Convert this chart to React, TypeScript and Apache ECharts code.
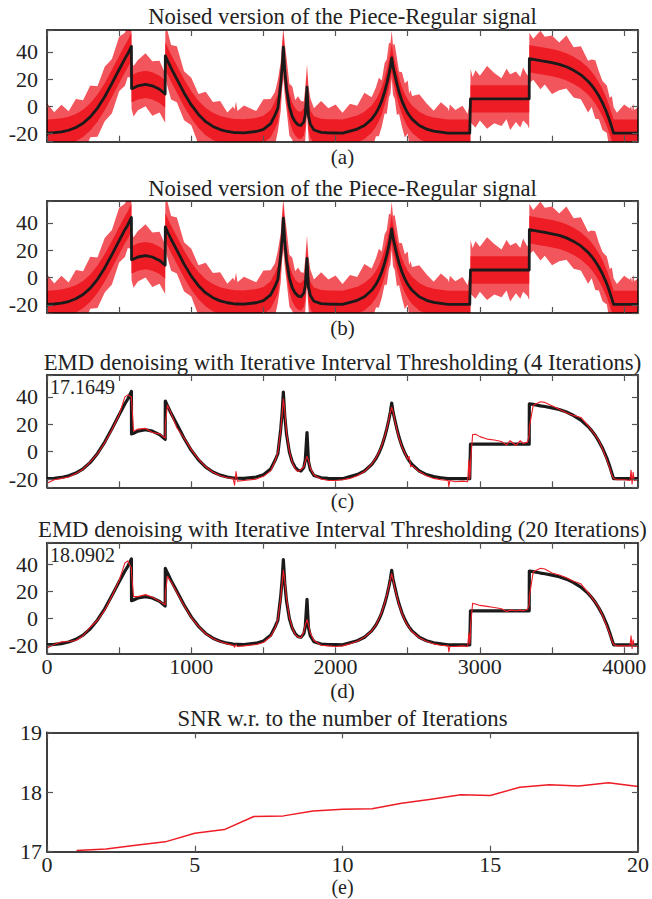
import React, { useEffect, useRef } from 'react';
import * as echarts from 'echarts';

// ---------- data ----------
const sigX = [
  0, 50, 100, 150, 200, 250, 300, 350, 400, 450,
  500, 540, 560, 585, 586, 600, 630, 683, 730, 780,
  819, 820, 835, 860, 900, 950, 1000, 1050, 1100, 1150,
  1200, 1250, 1290, 1300, 1310, 1320, 1365, 1450, 1500, 1550,
  1580, 1600, 1620, 1630, 1638, 1648, 1660, 1680, 1700, 1720,
  1740, 1760, 1780, 1790, 1802, 1812, 1825, 1850, 1900, 1950,
  2000, 2048, 2100, 2150, 2200, 2250, 2280, 2300, 2320, 2340,
  2355, 2370, 2380, 2389, 2398, 2410, 2425, 2440, 2460, 2480,
  2500, 2510, 2520, 2530, 2580, 2630, 2680, 2730, 2780, 2785,
  2792, 2830, 2880, 2915, 2924, 2930, 2934, 2935, 2950, 2970,
  3000, 3050, 3100, 3150, 3185, 3210, 3250, 3280, 3300, 3330,
  3342, 3343, 3370, 3420, 3450, 3500, 3550, 3600, 3650, 3700,
  3750, 3775, 3800, 3825, 3850, 3880, 3900, 3915, 3927, 3950,
  4000, 4040, 4048, 4055, 4062, 4070, 4096,
];

const cleanSig = [
  -19.7, -19.4, -18.8, -17.6, -15.6, -12.5, -7.8, -1.3, 7, 16.8,
  27, 35, 38.5, 44, 13, 13.5, 15, 16, 15, 12.5,
  9, 37, 33.5, 28, 20, 9.8, 1, -6, -11.3, -14.8,
  -17.1, -18.5, -19.2, -19.3, -19.4, -19.4, -19.5, -18.5, -16.9, -12.7,
  -6.5, -1.5, 16.6, 29, 43.5, 26, 12.7, -0.4, -7.5, -11.4,
  -13.6, -14.1, -11.5, -6.2, 14, -6.9, -13.1, -17.4, -19.1, -19.5,
  -19.6, -19.7, -18.2, -16.7, -14.1, -9.4, -5, -1, 4, 10.7,
  16.6, 23.7, 29.2, 35.5, 29.2, 23.5, 16.6, 10.5, 4, -1,
  -5, -6.6, -8, -9.4, -14.1, -16.7, -18.2, -19, -19.7, -19.7,
  -19.7, -19.7, -19.7, -19.7, -19.7, -19.7, -19.7, 5.5, 5.5, 5.5,
  5.5, 5.5, 5.5, 5.5, 5.5, 5.5, 5.5, 5.5, 5.5, 5.5,
  5.5, 35, 34.5, 33.5, 33, 32, 30.8, 29, 26.4, 23.1,
  18.4, 15.4, 11.8, 7.5, 2.6, -4.7, -10.7, -15.7, -19.7, -19.7,
  -19.7, -19.7, -19.7, -19.7, -19.7, -19.7, -19.7,
];

const denoised4 = [
  -23, -20.5, -19.5, -18.5, -16, -12.8, -7.5, -1.5, 6.5, 16,
  27, 40, 41.5, 40, 38, 15, 16.5, 17, 14, 13,
  10, 20, 34, 28, 17.5, 10, 1.5, -5.5, -11, -15,
  -17.5, -19, -19.5, -24.5, -14.5, -21.5, -21, -20, -18, -14,
  -7, -0.5, 16, 28, 38.5, 30, 14, 0, -8, -12.5,
  -14.5, -13, -11, -7, -3.5, -6, -12, -17, -20, -21,
  -21, -20.5, -19.5, -17.5, -14.5, -9, -4.5, -0.5, 4.5, 11,
  17, 24, 29, 32.5, 29.5, 23, 16, 10, 3.5, -1,
  -5.5, -3.5, -11, -10, -14.5, -17.5, -19.5, -20.5, -21, -25.5,
  -21, -22, -21.5, -22, -6, -20, -14, -8, 12.5, 12.7,
  11, 9.2, 8.5, 7.5, 5, 8, 4.5, 8, 6, 7,
  12, 18, 34, 36.5, 36, 33.5, 31, 28.5, 26.5, 25,
  19, 15.5, 12, 8, 2, -6, -12, -17, -19.5, -20.5,
  -20.5, -21, -13.5, -23.5, -15, -21, -20.5,
];

const denoised20 = [
  -22, -19.5, -17.5, -17.2, -16.5, -13, -6.5, -1.5, 6, 16.5,
  28, 41, 42.5, 37, 33, 16, 16, 17.5, 15.5, 12.5,
  10, 18, 31, 27, 19, 9.5, 0.5, -6, -11.5, -15,
  -17.5, -19, -20, -21.5, -19.5, -21, -20.5, -19.5, -18, -13.5,
  -7.5, -1, 15, 26, 35.5, 28, 15, 0.5, -7, -12,
  -14, -14.5, -10, -5, -1, -4.5, -11, -16.5, -20, -20.5,
  -21, -20.5, -19, -17, -14, -9.5, -5, -0.5, 4.5, 11,
  17, 24, 28.5, 33, 29, 22.5, 16, 10, 3.5, -1.5,
  -5.5, -6.5, -8.5, -10, -14.5, -17, -19, -20, -20.5, -25,
  -21, -21, -20.5, -21, -11, -19, -12, -6, 11, 10.5,
  9.5, 8.8, 8, 7, 5, 6, 5.5, 6, 5.5, 6.5,
  10, 16, 34.5, 37, 36.5, 33.5, 32, 30, 27.5, 25.5,
  19, 15.5, 12, 8, 2, -6, -11.5, -16.5, -19.5, -20.5,
  -20.5, -20.5, -13, -22.5, -16, -21, -20.5,
];

// reach of the noise spikes above / below the clean signal at each point
const noiseUp = [
  22, 15, 20, 14, 21, 17, 23, 16, 22, 18,
  24, 19, 21, 17, 20, 16, 19, 23, 18, 21,
  15, 18, 22, 17, 24, 16, 20, 15, 22, 18,
  21, 14, 19, 17, 23, 16, 20, 15, 22, 18,
  17, 21, 16, 19, 14, 20, 23, 17, 22, 16,
  21, 18, 15, 20, 17, 22, 19, 16, 23, 18,
  21, 15, 20, 17, 24, 16, 19, 22, 15, 21,
  18, 23, 17, 20, 16, 22, 19, 15, 21, 18,
  24, 16, 20, 17, 23, 19, 15, 22, 18, 16,
  21, 17, 20, 14, 19, 23, 18, 22, 16, 21,
  17, 24, 19, 15, 22, 18, 20, 16, 23, 17,
  21, 19, 15, 22, 18, 20, 16, 23, 17, 21,
  15, 19, 22, 18, 16, 20, 17, 23, 19, 15,
  21, 18, 20, 16, 22, 17, 19,
];
const noiseDown = [
  16, 21, 15, 20, 17, 23, 15, 21, 18, 22,
  16, 20, 17, 23, 15, 21, 18, 16, 22, 17,
  21, 16, 19, 23, 17, 20, 15, 22, 18, 21,
  16, 20, 15, 22, 18, 23, 16, 19, 21, 15,
  22, 17, 20, 16, 23, 18, 15, 21, 17, 22,
  19, 15, 22, 18, 20, 16, 23, 17, 21, 15,
  18, 22, 16, 20, 15, 23, 17, 21, 19, 16,
  22, 17, 20, 15, 21, 18, 23, 16, 19, 22,
  15, 21, 18, 16, 23, 17, 20, 22, 15, 19,
  21, 16, 23, 18, 20, 15, 22, 17, 19, 21,
  16, 22, 18, 20, 15, 23, 17, 21, 16, 19,
  22, 18, 15, 21, 17, 23, 19, 16, 20, 18,
  23, 16, 21, 17, 20, 15, 22, 18, 19, 21,
  16, 20, 17, 22, 18, 21, 16,
];
const noiseCore = 10; // half-width of the dense part of the noise

const iterations = [1, 2, 3, 4, 5, 6, 7, 8, 9, 10, 11, 12, 13, 14, 15, 16, 17, 18, 19, 20];
const snrValues = [
  17.02, 17.045, 17.11, 17.1649, 17.31, 17.37, 17.59, 17.6, 17.68, 17.71,
  17.72, 17.81, 17.88, 17.955, 17.94, 18.08, 18.12, 18.1, 18.155, 18.0902,
];

const panelTitles = [
  'Noised version of the Piece-Regular signal',
  'Noised version of the Piece-Regular signal',
  'EMD denoising with Iterative Interval Thresholding (4 Iterations)',
  'EMD denoising with Iterative Interval Thresholding (20 Iterations)',
  'SNR w.r. to the number of Iterations',
];
const panelLabels = ['(a)', '(b)', '(c)', '(d)', '(e)'];

// ---------- layout / style ----------
const FONT = 'Liberation Serif, serif';
const RED = '#ee1c25';
const BLACK = '#1a1a1a';
const TEXT = '#222';
const GRID_LEFT = 47;
const GRID_WIDTH = 591;
const CENTER_X = GRID_LEFT + GRID_WIDTH / 2;
const grids = [
  { top: 30, height: 111.7 },
  { top: 201, height: 112 },
  { top: 375, height: 112.3 },
  { top: 542.7, height: 110.6 },
  { top: 732.3, height: 119.4 },
];
const titleY = [16.7, 188, 362, 529.5, 718.7];
const labelY = [157, 328, 501, 691, 886.5];

export default function App() {
  const ref = useRef<HTMLDivElement>(null);

  useEffect(() => {
    document.body.style.margin = '0';
    const chart = echarts.init(ref.current as HTMLDivElement, null, { renderer: 'svg' });

    const xAxes: any[] = [];
    const yAxes: any[] = [];
    grids.forEach((_, gi) => {
      const isSnr = gi === 4;
      const lineCfg = { show: true, onZero: false, lineStyle: { color: '#000', width: 1.5 } };
      const tickCfg = { show: true, inside: true, length: 6, lineStyle: { color: '#555', width: 1.2 } };
      const labelCfg = { fontFamily: FONT, fontSize: 22, color: TEXT };
      const xBase = {
        type: 'value', gridIndex: gi, min: 0, max: isSnr ? 20 : 4096, interval: isSnr ? 5 : 500,
        splitLine: { show: false }, axisLine: lineCfg, axisTick: tickCfg, z: 10,
      };
      xAxes.push({
        ...xBase, position: 'bottom',
        axisLabel: {
          ...labelCfg, show: gi >= 3, margin: 2,
          formatter: (v: number) => (isSnr || v % 1000 === 0 ? String(v) : ''),
        },
      });
      xAxes.push({ ...xBase, position: 'top', axisLabel: { show: false } });
      const yBase: any = {
        type: 'value', gridIndex: gi, min: isSnr ? 17 : -26, max: isSnr ? 19 : 56,
        splitLine: { show: false }, axisLine: lineCfg, axisTick: tickCfg, z: 10,
      };
      if (isSnr) yBase.interval = 1; else yBase.splitNumber = 4;
      yAxes.push({
        ...yBase, position: 'left',
        axisLabel: {
          ...labelCfg, show: true, margin: isSnr ? 5 : 9,
          formatter: (v: number) => (isSnr || v % 20 === 0 ? String(v) : ''),
        },
      });
      yAxes.push({ ...yBase, position: 'right', axisLabel: { show: false } });
    });

    const cleanData = sigX.map((x, i) => [x, cleanSig[i]]);
    const outerHi = cleanSig.map((v, i) => v + noiseUp[i]);
    const outerLo = cleanSig.map((v, i) => v - noiseDown[i]);
    const innerHi = cleanSig.map((v) => v + noiseCore);
    const innerLo = cleanSig.map((v) => v - noiseCore);

    const band = (gi: number, hi: number[], lo: number[], opacity: number) => ({
      type: 'custom', xAxisIndex: 2 * gi, yAxisIndex: 2 * gi, clip: true, silent: true,
      data: sigX.map((x, i) => [x, hi[i], lo[i]]),
      encode: { x: 0, y: [1, 2] },
      renderItem: (params: any, api: any) => {
        if (params.dataIndex !== 0) return null;
        const pts: number[][] = [];
        for (let i = 0; i < sigX.length; i++) pts.push(api.coord([sigX[i], hi[i]]));
        for (let i = sigX.length - 1; i >= 0; i--) pts.push(api.coord([sigX[i], lo[i]]));
        return { type: 'polygon', shape: { points: pts }, style: { fill: RED, opacity } };
      },
    });
    const line = (gi: number, data: number[][], color: string, width: number) => ({
      type: 'line', xAxisIndex: 2 * gi, yAxisIndex: 2 * gi, data, showSymbol: false, symbol: 'none',
      lineStyle: { color, width, join: 'round' }, clip: true, silent: true,
    });

    const series: any[] = [];
    for (const gi of [0, 1]) {
      series.push(band(gi, outerHi, outerLo, 0.75));
      series.push(band(gi, innerHi, innerLo, 1));
      series.push(line(gi, cleanData, BLACK, 2.8));
    }
    series.push(line(2, cleanData, BLACK, 3.2));
    series.push(line(2, sigX.map((x, i) => [x, denoised4[i]]), RED, 1.1));
    series.push(line(3, cleanData, BLACK, 3.2));
    series.push(line(3, sigX.map((x, i) => [x, denoised20[i]]), RED, 1.1));
    series.push(line(4, iterations.map((it, i) => [it, snrValues[i]]), RED, 1.5));

    const txt = (text: string, x: number, y: number, size: number, align: string) => ({
      type: 'text', x, y, z: 20,
      style: {
        text, font: `${size}px ${FONT}`, fill: TEXT,
        align, verticalAlign: 'middle', textAlign: align, textVerticalAlign: 'middle',
      },
    });
    const graphic: any[] = [];
    panelTitles.forEach((t, i) => graphic.push(txt(t, CENTER_X, titleY[i], 22.7, 'center')));
    panelLabels.forEach((t, i) => graphic.push(txt(t, CENTER_X, labelY[i], i === 4 ? 20 : 21, 'center')));
    graphic.push(txt(snrValues[3].toFixed(4), 50, 387, 20, 'left'));
    graphic.push(txt(snrValues[19].toFixed(4), 50, 555, 20, 'left'));

    chart.setOption({
      animation: false,
      backgroundColor: '#fff',
      grid: grids.map((g) => ({ left: GRID_LEFT, width: GRID_WIDTH, top: g.top, height: g.height })),
      xAxis: xAxes,
      yAxis: yAxes,
      series,
      graphic,
    });
    return () => chart.dispose();
  }, []);

  return <div ref={ref} style={{ width: 652, height: 899 }} />;
}
